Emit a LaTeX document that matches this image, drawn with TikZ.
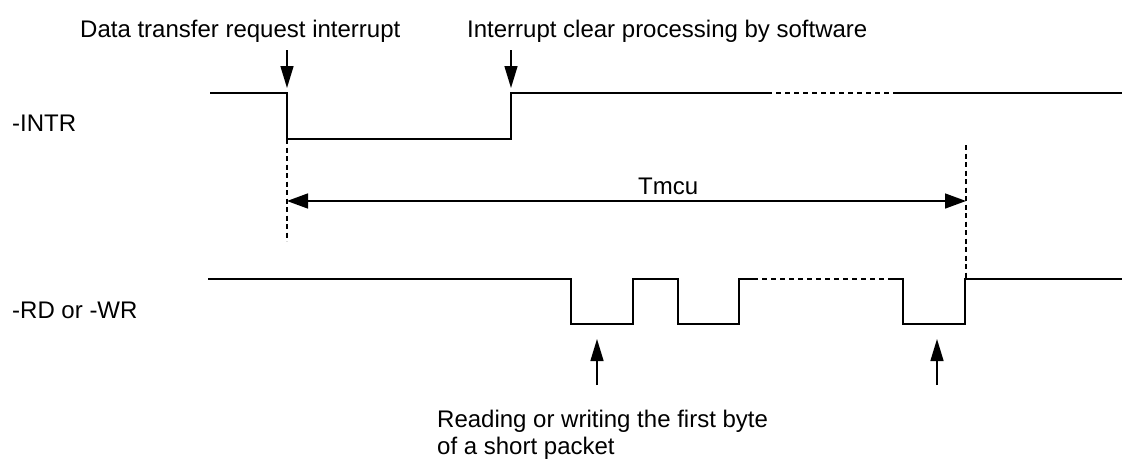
\documentclass[tikz,border=0pt]{standalone}
\usepackage{fontspec}
\setmainfont{Liberation Sans}
\usetikzlibrary{arrows.meta}
\begin{document}
\begin{tikzpicture}[x=1pt,y=-1pt,
  signal/.style={line width=1.5pt, line join=miter},
  gap/.style={line width=1.5pt, dash pattern=on 5pt off 4pt},
  guide/.style={line width=1.3pt, dash pattern=on 5pt off 3.5pt},
  marker/.style={line width=1.5pt, -{Triangle[length=22pt,width=13pt]}},
  span/.style={line width=1.5pt, {Triangle[length=21pt,width=15pt]}-{Triangle[length=21pt,width=15pt]}},
  lbl/.style={inner sep=0pt, font=\fontsize{24}{27}\selectfont}]
\useasboundingbox (0,0) rectangle (1136,461);

% signal names
\node[lbl, anchor=base west] (intr) at (12,131) {-INTR};
\node[lbl, anchor=base west] (rdwr) at (12,318) {-RD or -WR};

% -INTR waveform
\coordinate (i0) at (210,93);
\coordinate (ifall) at (287,93);
\coordinate (ilow) at (287,139);
\coordinate (irise) at (511,139);
\coordinate (ihigh) at (511,93);
\coordinate (ida) at (767,93);
\coordinate (idb) at (893,93);
\coordinate (iend) at (1122,93);
\draw[signal] (i0) -- (ifall) -- (ilow) -- (irise) -- (ihigh) -- (ida);
\draw[gap] (ida) -- (idb);
\draw[signal] (idb) -- (iend);

% -RD / -WR waveform
\coordinate (r0) at (208,279);
\coordinate (rda) at (753,279);
\coordinate (rdb) at (890,279);
\coordinate (rhi) at (965,279);
\coordinate (rend) at (1122,279);
\draw[signal] (r0) -- (571,279) -- (571,324) -- (633,324) -- (633,279)
  -- (678,279) -- (678,324) -- (739,324) -- (739,279) -- (rda);
\draw[gap] (rda) -- (rdb);
\draw[signal] (rdb) -- (903,279) -- (903,324) -- (965,324) -- (rhi) -- (rend);

% timing guides
\coordinate (ga) at (287,241);
\coordinate (gb) at (966,145);
\coordinate (gbend) at (966,279);
\draw[guide] (ilow) -- (ga);
\draw[guide] (gb) -- (gbend);

% Tmcu span
\coordinate (ta) at (287,201);
\coordinate (tb) at (966,201);
\draw[span] (ta) -- (tb);
\node[lbl, anchor=base west] (tmcu) at (638,194) {Tmcu};

% event markers on -INTR
\node[lbl, anchor=base west] (req) at (80,37) {Data transfer request interrupt};
\node[lbl, anchor=base west] (clr) at (467,37) {Interrupt clear processing by software};
\coordinate (ma) at (287,50);
\coordinate (mat) at (287,88);
\coordinate (mb) at (511,50);
\coordinate (mbt) at (511,88);
\draw[marker] (ma) -- (mat);
\draw[marker] (mb) -- (mbt);

% byte access markers on -RD / -WR
\coordinate (ua) at (597,385);
\coordinate (uat) at (597,339);
\coordinate (ub) at (937,385);
\coordinate (ubt) at (937,339);
\draw[marker] (ua) -- (uat);
\draw[marker] (ub) -- (ubt);
% base anchor of a multi-line node sits on its last line
\node[lbl, anchor=base west, align=left] (note) at (437,454)
  {Reading or writing the first byte\\of a short packet};
\end{tikzpicture}
\end{document}
